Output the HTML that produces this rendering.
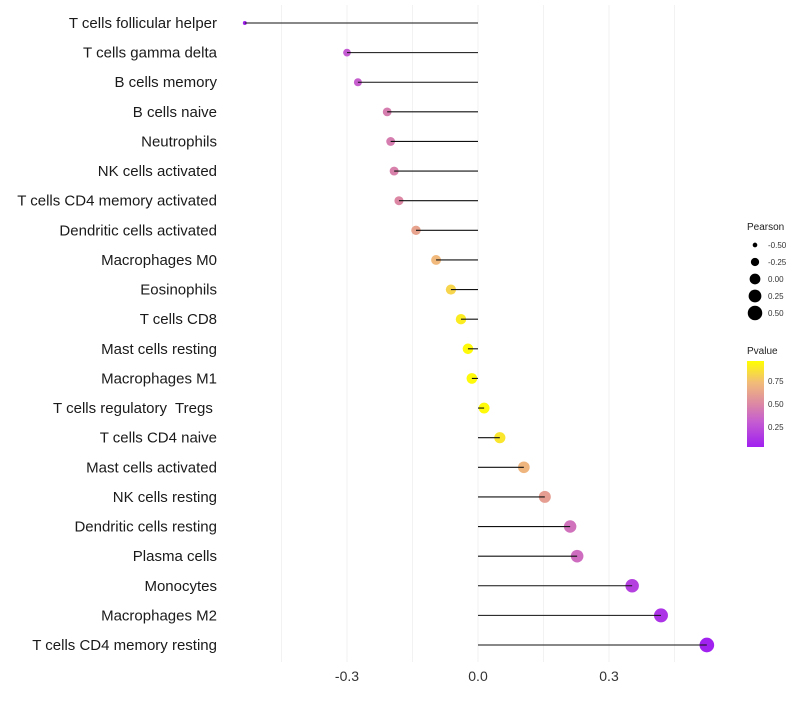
<!DOCTYPE html>
<html><head><meta charset="utf-8"><style>
body{margin:0;background:#fff;font-family:"Liberation Sans",sans-serif}
svg text{font-family:"Liberation Sans",sans-serif;white-space:pre}
</style></head><body>
<svg id="c" width="800" height="700" xmlns="http://www.w3.org/2000/svg">
<defs><linearGradient id="pg" x1="0" y1="1" x2="0" y2="0">
<stop offset="0" stop-color="#a020f0"/><stop offset="0.3" stop-color="#c65ed0"/><stop offset="0.5" stop-color="#dc88a4"/><stop offset="0.75" stop-color="#f2bc78"/><stop offset="1" stop-color="#ffff00"/></linearGradient></defs>
<g id="grid"></g><g id="marks"></g><g id="labels"></g><g id="xaxis"></g>
<g id="legend">
<text x="747" y="230" font-size="10" fill="#222">Pearson</text>
<text x="747" y="354" font-size="10" fill="#222">Pvalue</text>
<rect x="747" y="361" width="17" height="86" fill="url(#pg)"/>
<g font-size="8" fill="#333">
<text x="768" y="384">0.75</text><text x="768" y="407">0.50</text><text x="768" y="430">0.25</text></g>
</g>
</svg>
<script>
const categories=["T cells follicular helper","T cells gamma delta","B cells memory","B cells naive","Neutrophils","NK cells activated","T cells CD4 memory activated","Dendritic cells activated","Macrophages M0","Eosinophils","T cells CD8","Mast cells resting","Macrophages M1","T cells regulatory  Tregs ","T cells CD4 naive","Mast cells activated","NK cells resting","Dendritic cells resting","Plasma cells","Monocytes","Macrophages M2","T cells CD4 memory resting"];
const pearson=[-0.534,-0.30,-0.275,-0.208,-0.20,-0.192,-0.181,-0.142,-0.096,-0.062,-0.039,-0.023,-0.014,0.014,0.05,0.105,0.153,0.211,0.227,0.353,0.419,0.524];
const pvalue=[0.04,0.3,0.32,0.45,0.45,0.47,0.5,0.62,0.72,0.82,0.9,0.95,0.95,0.95,0.88,0.7,0.6,0.4,0.38,0.18,0.12,0.04];
const xTicks=[-0.3,0.0,0.3];
const xTickLabels=["-0.3","0.0","0.3"];
const gridVals=[-0.45,-0.3,-0.15,0,0.15,0.3,0.45];
const sizeLegend=[-0.5,-0.25,0,0.25,0.5];
const sizeLegendLabels=["-0.50","-0.25","0.00","0.25","0.50"];
const NS="http://www.w3.org/2000/svg";
const xs=v=>478+v*436.7;
const ys=i=>23+i*(645-23)/(categories.length-1);
const rs=v=>Math.sqrt(Math.max(1,4+(v+0.53)/1.06*50));
const stops=[[0,[160,32,240]],[0.3,[198,94,208]],[0.5,[220,136,164]],[0.75,[242,188,120]],[1,[255,255,0]]];
function col(p){let t=Math.min(1,Math.max(0,(p-0.033)/(0.967-0.033)));for(let k=1;k<stops.length;k++){if(t<=stops[k][0]){const a=stops[k-1],b=stops[k],f=(t-a[0])/(b[0]-a[0]);return "rgb("+a[1].map((c,j)=>Math.round(c+(b[1][j]-c)*f)).join(",")+")";}}return "rgb(255,255,0)";}
function mk(tag,attrs,parent){const e=document.createElementNS(NS,tag);for(const k in attrs)e.setAttribute(k,attrs[k]);document.getElementById(parent).appendChild(e);return e;}
gridVals.forEach(v=>{const l=mk("line",{x1:xs(v),x2:xs(v),y1:5,y2:662,stroke:"#f2f2f2","stroke-width":1},"grid");

});
xTicks.forEach((v,i)=>{const t=mk("text",{x:xs(v),y:681,"font-size":14,"text-anchor":"middle",fill:"#333"},"xaxis");t.textContent=xTickLabels[i];

});
categories.forEach((c,i)=>{
const y=ys(i),v=pearson[i];
const dot=mk("circle",{cx:xs(v),cy:y,r:rs(v),fill:col(pvalue[i])},"marks");


const ln=mk("line",{x1:xs(0),x2:xs(v),y1:y,y2:y,stroke:"#111","stroke-width":1.1},"marks");


const t=mk("text",{x:217,y:y+5,"font-size":15,"text-anchor":"end",fill:"#1a1a1a"},"labels");t.textContent=c;

});
sizeLegend.forEach((v,i)=>{const y=245+i*17;
const d=mk("circle",{cx:755,cy:y,r:rs(v),fill:"#000"},"legend");


const t=mk("text",{x:768,y:y+3,"font-size":8,fill:"#333"},"legend");t.textContent=sizeLegendLabels[i];

});
</script>
</body></html>
